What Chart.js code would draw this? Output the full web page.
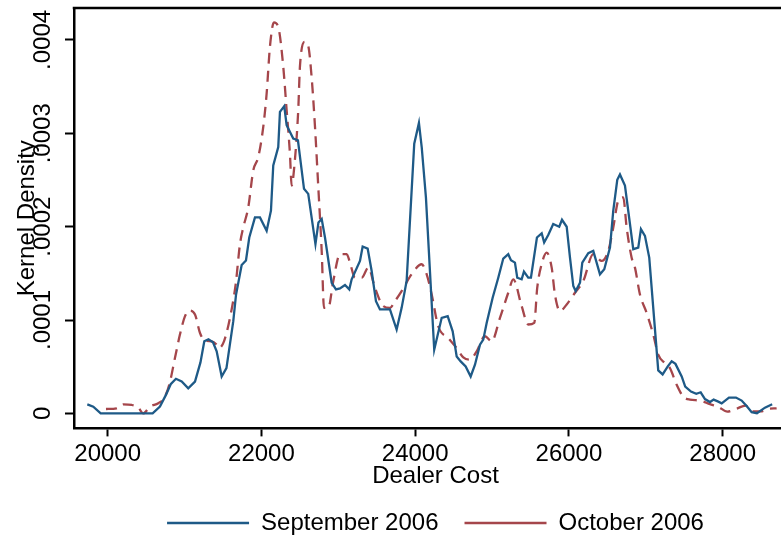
<!DOCTYPE html>
<html>
<head>
<meta charset="utf-8">
<title>Kernel Density - Dealer Cost</title>
<script src="https://cdn.jsdelivr.net/npm/chart.js@4/dist/chart.umd.min.js"></script>
<style>
    html, body { margin: 0; padding: 0; overflow: hidden; background: #fff; }
    #wrap { width: 797px; height: 538px; }
</style>
</head>
<body>
<div id="wrap"><canvas id="densityChart"></canvas></div>
<script>

// dealer cost grid and density estimates, one pair of arrays per month
const septCost = [19735, 19813, 19909, 20585, 20680, 20758, 20820, 20888, 20963, 21048,
    21136, 21207, 21257, 21311, 21370, 21418, 21483, 21545, 21634, 21669,
    21743, 21799, 21842, 21916, 21981, 22068, 22124, 22154, 22219, 22241,
    22297, 22328, 22414, 22475, 22554, 22609, 22703, 22742, 22784, 22827,
    22914, 22970, 23022, 23087, 23143, 23174, 23282, 23317, 23382, 23434,
    23490, 23542, 23672, 23759, 23824, 23889, 23988, 24049, 24085, 24140,
    24248, 24345, 24423, 24488, 24540, 24592, 24657, 24722, 24778, 24843,
    24886, 24930, 25008, 25081, 25146, 25211, 25246, 25298, 25328, 25385,
    25415, 25471, 25506, 25584, 25646, 25678, 25731, 25796, 25874, 25910,
    25971, 26014, 26057, 26088, 26144, 26174, 26252, 26317, 26404, 26460,
    26534, 26577, 26629, 26664, 26729, 26837, 26902, 26937, 26989, 27045,
    27162, 27219, 27286, 27337, 27386, 27467, 27513, 27588, 27657, 27714,
    27770, 27835, 27883, 27943, 27987, 28082, 28173, 28247, 28312, 28377,
    28446, 28550, 28644];

const septDensity = [0.0000097, 0.0000072, 0, 0, 0.0000072, 0.0000198, 0.0000312, 0.000037, 0.0000341, 0.0000269,
    0.0000341, 0.0000546, 0.0000772, 0.0000793, 0.0000761, 0.0000664, 0.0000395, 0.0000484, 0.0000987, 0.0001267,
    0.000159, 0.0001638, 0.0001884, 0.0002099, 0.0002099, 0.0001956, 0.0002171, 0.0002656, 0.0002853, 0.0003229,
    0.0003291, 0.0003086, 0.0002943, 0.0002925, 0.0002405, 0.0002351, 0.0001813, 0.0002045, 0.0002082, 0.0001884,
    0.0001399, 0.0001328, 0.0001339, 0.0001375, 0.0001328, 0.0001436, 0.0001633, 0.0001787, 0.0001765, 0.0001525,
    0.0001202, 0.0001113, 0.0001113, 0.0000898, 0.000113, 0.0001418, 0.0002889, 0.0003111, 0.0002853, 0.0002314,
    0.0000682, 0.0001023, 0.0001041, 0.0000879, 0.000061, 0.0000557, 0.0000503, 0.0000395, 0.0000521, 0.0000736,
    0.000079, 0.0000969, 0.0001238, 0.0001453, 0.0001658, 0.0001705, 0.000164, 0.0001615, 0.0001453, 0.0001436,
    0.0001518, 0.0001453, 0.0001453, 0.0001884, 0.0001929, 0.000183, 0.000191, 0.0002028, 0.0001999, 0.0002074,
    0.0001999, 0.0001668, 0.0001364, 0.000131, 0.0001399, 0.0001615, 0.0001716, 0.0001741, 0.000149, 0.0001544,
    0.0001776, 0.0002171, 0.0002502, 0.0002559, 0.000244, 0.0001759, 0.0001776, 0.0001974, 0.0001902, 0.0001668,
    0.000046, 0.0000417, 0.0000503, 0.0000557, 0.000053, 0.0000395, 0.0000287, 0.0000234, 0.000021, 0.0000226,
    0.0000153, 0.0000121, 0.0000147, 0.0000126, 0.0000108, 0.0000169, 0.0000169, 0.0000137, 0.0000078, 0.0000013,
    0.0000002, 0.0000061, 0.0000097];

const octCost = [19978, 20117, 20203, 20312, 20398, 20463, 20550, 20658, 20732, 20801,
    20875, 20940, 21006, 21061, 21136, 21201, 21266, 21353, 21418, 21448,
    21513, 21591, 21665, 21721, 21764, 21829, 21894, 21959, 22024, 22068,
    22111, 22163, 22219, 22284, 22328, 22371, 22393, 22427, 22479, 22501,
    22566, 22609, 22654, 22697, 22740, 22784, 22814, 22870, 22935, 23022,
    23109, 23152, 23217, 23304, 23390, 23477, 23585, 23672, 23737, 23824,
    23954, 24085, 24150, 24215, 24300, 24431, 24540, 24626, 24713, 24800,
    24908, 24995, 25103, 25211, 25276, 25385, 25471, 25549, 25588, 25645,
    25711, 25776, 25818, 25884, 25971, 26079, 26187, 26317, 26426, 26512,
    26577, 26642, 26707, 26751, 26816, 26859, 26924, 27011, 27097, 27162,
    27249, 27314, 27402, 27487, 27575, 27705, 27835, 27939, 28062, 28182,
    28297, 28398, 28498, 28593, 28702];

const octDensity = [0.0000047, 0.0000054, 0.0000097, 0.000009, 0.0000061, 0, 0.0000072, 0.0000108, 0.0000161, 0.0000306,
    0.0000592, 0.0000844, 0.0001041, 0.0001102, 0.0001059, 0.0000861, 0.0000779, 0.0000772, 0.0000736, 0.00007,
    0.0000772, 0.0001023, 0.0001382, 0.0001813, 0.0001991, 0.0002207, 0.0002602, 0.0002745, 0.0003068, 0.0003427,
    0.0003929, 0.0004187, 0.0004138, 0.0003714, 0.0003248, 0.0002781, 0.000244, 0.0002637, 0.0003248, 0.0003714,
    0.000398, 0.0003936, 0.0003592, 0.0003068, 0.0002422, 0.0001741, 0.000113, 0.000113, 0.0001418, 0.0001705,
    0.0001705, 0.0001615, 0.0001453, 0.0001453, 0.0001561, 0.0001346, 0.0001149, 0.000113, 0.0001202, 0.000131,
    0.000149, 0.0001597, 0.000149, 0.0001274, 0.0000933, 0.0000807, 0.00007, 0.00006, 0.0000575, 0.0000664,
    0.0000826, 0.0000772, 0.0001023, 0.0001292, 0.0001436, 0.0001149, 0.0000952, 0.0000969, 0.0001346, 0.0001597,
    0.0001722, 0.0001561, 0.0001274, 0.0001095, 0.0001167, 0.0001292, 0.0001418, 0.0001705, 0.0001633, 0.0001741,
    0.0001991, 0.0002279, 0.0002314, 0.0001991, 0.0001668, 0.0001561, 0.0001274, 0.0001076, 0.0000844, 0.0000629,
    0.0000538, 0.0000484, 0.0000306, 0.000018, 0.0000147, 0.0000137, 0.0000099, 0.0000072, 0.0000018, 0.0000051,
    0.0000083, 0.0000022, 0.0000022, 0.0000047, 0.0000054];

// axis ticks
const costTicks = [20000, 22000, 24000, 26000, 28000];
const densityTicks = [0, 0.0001, 0.0002, 0.0003, 0.0004];
const densityTickLabels = ['0', '.0001', '.0002', '.0003', '.0004'];

const seriesNames = ['September 2006', 'October 2006'];

function toPoints(xs, ys) {
    return xs.map((x, i) => ({ x: x, y: ys[i] }));
}

Chart.defaults.font.family = "'Liberation Sans', Arial, sans-serif";
Chart.defaults.font.size = 24;
Chart.defaults.color = '#000';

// frame line along the top of the plot region
const topFrame = {
    id: 'topFrame',
    afterDraw(chart) {
        const a = chart.chartArea;
        const c = chart.ctx;
        c.save();
        c.strokeStyle = '#000';
        c.lineWidth = 2.5;
        c.beginPath();
        c.moveTo(a.left - 1.25, a.top);
        c.lineTo(a.right, a.top);
        c.stroke();
        c.restore();
    }
};

const ctx = document.getElementById('densityChart');

new Chart(ctx, {
    type: 'line',
    data: {
        datasets: [{
            label: seriesNames[0],
            data: toPoints(septCost, septDensity),
            borderColor: '#1e5a87',
            borderWidth: 2.3,
            pointRadius: 0,
            tension: 0
        }, {
            label: seriesNames[1],
            data: toPoints(octCost, octDensity),
            borderColor: '#a5464b',
            borderWidth: 2.3,
            borderDash: [11, 7],
            pointRadius: 0,
            cubicInterpolationMode: 'monotone'
        }]
    },
    options: {
        responsive: true,
        maintainAspectRatio: false,
        animation: false,
        layout: {
            padding: { top: 8, right: 0, bottom: -7, left: 0 }
        },
        plugins: {
            legend: {
                position: 'bottom',
                fullSize: false,
                labels: {
                    usePointStyle: true,
                    pointStyle: 'line',
                    pointStyleWidth: 82,
                    padding: 26,
                    color: '#000'
                }
            },
            tooltip: { enabled: false }
        },
        scales: {
            x: {
                type: 'linear',
                min: 19562,
                max: 28967,
                afterBuildTicks: (s) => { s.ticks = costTicks.map(v => ({ value: v })); },
                afterFit: (s) => { s.paddingLeft = 0; s.paddingRight = 0; },
                ticks: {
                    padding: 4,
                    maxRotation: 0,
                    callback: (v) => String(v)
                },
                grid: {
                    drawOnChartArea: false,
                    drawTicks: true,
                    tickLength: 8,
                    tickWidth: 2,
                    tickColor: '#000'
                },
                border: { display: true, color: '#000', width: 2.5 },
                title: {
                    display: true,
                    text: 'Dealer Cost',
                    padding: { top: -11, bottom: -6 }
                }
            },
            y: {
                min: -0.0000161,
                max: 0.0004342,
                afterBuildTicks: (s) => { s.ticks = densityTicks.map(v => ({ value: v })); },
                afterFit: (s) => { s.width = 74; s.paddingTop = 0; s.paddingBottom = 0; },
                ticks: {
                    minRotation: 90,
                    maxRotation: 90,
                    crossAlign: 'center',
                    padding: -8,
                    callback: (v, i) => densityTickLabels[i]
                },
                grid: {
                    drawOnChartArea: false,
                    drawTicks: true,
                    tickLength: 9,
                    tickWidth: 2,
                    tickColor: '#000'
                },
                border: { display: true, color: '#000', width: 2.5 },
                title: {
                    display: true,
                    text: 'Kernel Density',
                    padding: { top: 13, bottom: 0 }
                }
            }
        }
    },
    plugins: [topFrame]
});

</script>
</body>
</html>
